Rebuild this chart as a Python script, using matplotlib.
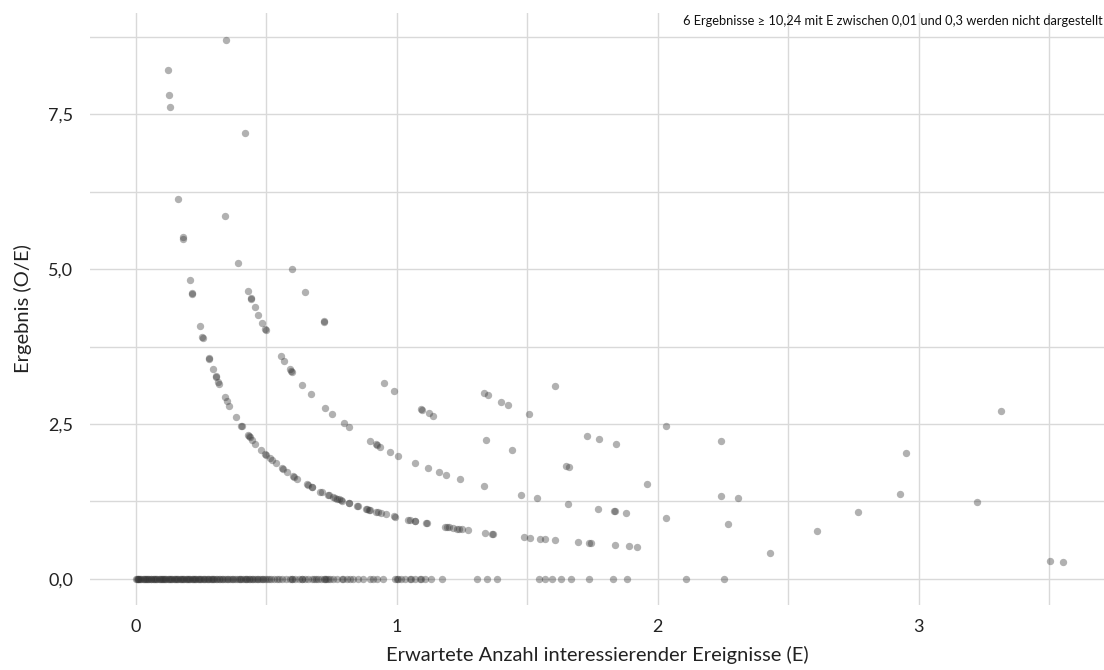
import matplotlib
matplotlib.use("Agg")
import matplotlib.pyplot as plt
from matplotlib.ticker import MultipleLocator, FuncFormatter

# ---------------- data ----------------
# points with O/E > 0 : expected count E and result O/E
e_pos = [0.122, 0.128, 0.131, 0.163, 0.181, 0.182, 0.207, 0.216, 0.217, 0.245,
         0.256, 0.258, 0.280, 0.281, 0.296, 0.306, 0.308, 0.316, 0.318, 0.341,
         0.348, 0.358, 0.383, 0.405, 0.407, 0.430, 0.434, 0.437, 0.447, 0.459,
         0.482, 0.496, 0.500, 0.513, 0.522, 0.536, 0.560, 0.564, 0.578, 0.604,
         0.608, 0.620, 0.655, 0.662, 0.674, 0.676, 0.707, 0.713, 0.738, 0.741,
         0.756, 0.765, 0.772, 0.778, 0.788, 0.792, 0.816, 0.819, 0.849, 0.853,
         0.882, 0.885, 0.895, 0.899, 0.921, 0.929, 0.939, 0.958, 0.989, 0.993,
         1.045, 1.051, 1.069, 1.072, 1.113, 1.116, 1.185, 1.192, 1.199, 1.216,
         1.233, 1.240, 1.250, 1.274, 1.339, 1.365, 1.370, 1.487, 1.511, 1.549,
         1.567, 1.607, 1.696, 1.736, 1.743, 1.836, 1.890, 1.920, 2.430, 3.503,
         3.553,
         0.342, 0.392, 0.430, 0.441, 0.443, 0.456, 0.469, 0.484, 0.496, 0.498,
         0.556, 0.570, 0.590, 0.596, 0.598, 0.639, 0.670, 0.724, 0.753, 0.797,
         0.816, 0.898, 0.920, 0.925, 0.937, 0.974, 1.006, 1.072, 1.120, 1.163,
         1.189, 1.242, 1.335, 1.476, 1.536, 1.655, 1.772, 1.832, 1.836, 1.880,
         2.033, 2.270, 2.612,
         0.345, 0.417, 0.600, 0.648, 0.721, 0.723, 0.951, 0.991, 1.094, 1.098,
         1.123, 1.141, 1.341, 1.442, 1.650, 1.661, 1.958, 2.242, 2.309, 2.767,
         1.336, 1.349, 1.399, 1.428, 1.506, 1.731, 1.776, 1.842, 2.929, 3.225,
         1.606, 2.030, 2.243,
         2.953,
         3.315]
oe_pos = [8.21, 7.80, 7.61, 6.13, 5.51, 5.48, 4.83, 4.62, 4.60, 4.08,
          3.91, 3.88, 3.57, 3.55, 3.38, 3.27, 3.25, 3.17, 3.14, 2.93,
          2.87, 2.79, 2.61, 2.47, 2.46, 2.33, 2.30, 2.29, 2.24, 2.18,
          2.08, 2.02, 2.00, 1.95, 1.92, 1.87, 1.79, 1.77, 1.73, 1.66,
          1.65, 1.61, 1.53, 1.51, 1.48, 1.48, 1.41, 1.40, 1.355, 1.35,
          1.32, 1.31, 1.295, 1.285, 1.27, 1.263, 1.225, 1.221, 1.178, 1.172,
          1.134, 1.13, 1.117, 1.112, 1.086, 1.076, 1.065, 1.044, 1.011, 1.007,
          0.957, 0.951, 0.935, 0.933, 0.898, 0.896, 0.844, 0.839, 0.834, 0.822,
          0.811, 0.806, 0.800, 0.785, 0.747, 0.733, 0.730, 0.672, 0.662, 0.645,
          0.638, 0.622, 0.590, 0.576, 0.574, 0.545, 0.529, 0.521, 0.412, 0.286,
          0.281,
          5.85, 5.10, 4.65, 4.53, 4.51, 4.39, 4.26, 4.13, 4.03, 4.02,
          3.60, 3.51, 3.39, 3.36, 3.34, 3.13, 2.98, 2.76, 2.66, 2.51,
          2.45, 2.23, 2.17, 2.16, 2.13, 2.05, 1.99, 1.87, 1.79, 1.72,
          1.68, 1.61, 1.50, 1.355, 1.30, 1.21, 1.129, 1.092, 1.089, 1.064,
          0.984, 0.881, 0.766,
          8.69, 7.19, 5.00, 4.63, 4.16, 4.15, 3.155, 3.027, 2.742, 2.732,
          2.672, 2.629, 2.237, 2.080, 1.818, 1.806, 1.532, 1.338, 1.299, 1.084,
          2.994, 2.965, 2.859, 2.801, 2.656, 2.311, 2.252, 2.172, 1.366, 1.240,
          3.113, 2.463, 2.229,
          2.032,
          2.715]

# points with O/E = 0 : expected count E
e_zero = [0.003, 0.005, 0.008, 0.010, 0.013, 0.018, 0.022, 0.027, 0.030, 0.035,
          0.040, 0.043, 0.048, 0.052, 0.057, 0.060, 0.065, 0.070, 0.074, 0.078,
          0.083, 0.088, 0.092, 0.097, 0.100, 0.105, 0.110, 0.114, 0.118, 0.123,
          0.128, 0.132, 0.137, 0.141, 0.146, 0.150, 0.155, 0.160, 0.164, 0.168,
          0.173, 0.178, 0.182, 0.187, 0.192, 0.196, 0.200, 0.205, 0.210, 0.214,
          0.219, 0.224, 0.228, 0.233, 0.238, 0.243, 0.248, 0.252, 0.257, 0.262,
          0.267, 0.272, 0.277, 0.282, 0.287, 0.292, 0.297, 0.302, 0.307, 0.312,
          0.318, 0.323, 0.329, 0.335, 0.342, 0.349, 0.355, 0.362, 0.368, 0.374,
          0.381, 0.387, 0.394, 0.400, 0.405, 0.410, 0.419, 0.424, 0.428, 0.433,
          0.438, 0.444, 0.450, 0.457, 0.464, 0.470, 0.476, 0.483, 0.489, 0.496,
          0.505, 0.512, 0.520, 0.530, 0.540, 0.550, 0.560, 0.575, 0.590, 0.598,
          0.600, 0.612, 0.625, 0.636, 0.638, 0.650, 0.662, 0.674, 0.682, 0.690,
          0.700, 0.710, 0.720, 0.725, 0.730, 0.738, 0.745, 0.757, 0.770, 0.789,
          0.795, 0.808, 0.820, 0.834, 0.850, 0.872, 0.898, 0.910, 0.925, 0.949,
          0.995, 1.000, 1.005, 1.018, 1.030, 1.050, 1.055, 1.070, 1.090, 1.095,
          1.110, 1.130, 1.172, 1.306, 1.345, 1.385, 1.547, 1.569, 1.594, 1.631,
          1.668, 1.736, 1.828, 1.884, 2.109, 2.255]
oe_zero = [0.0] * len(e_zero)

x_ticks = [0, 1, 2, 3]
y_ticks = [0.0, 2.5, 5.0, 7.5]
x_label = "Erwartete Anzahl interessierender Ereignisse (E)"
y_label = "Ergebnis (O/E)"
note = "6 Ergebnisse \u2265 10,24 mit E zwischen 0,01 und 0,3 werden nicht dargestellt"

# ---------------- plot ----------------
FONT = ["Lato", "DejaVu Sans"]
plt.rcParams["font.family"] = FONT

fig = plt.figure(figsize=(11.04, 6.70), dpi=100)
ax = fig.add_axes([90 / 1104, 65 / 670, 1014 / 1104, 592 / 670])

pt_color = "#333333"
ax.scatter(e_zero, oe_zero, s=28, color=pt_color, alpha=0.38, linewidths=0, zorder=3)
ax.scatter(e_pos, oe_pos, s=28, color=pt_color, alpha=0.38, linewidths=0, zorder=3)

ax.set_xlim(-0.175, 3.71)
ax.set_ylim(-0.42, 9.13)

ax.xaxis.set_minor_locator(MultipleLocator(0.5))
ax.yaxis.set_minor_locator(MultipleLocator(1.25))
ax.set_xticks(x_ticks)
ax.set_yticks(y_ticks)
ax.xaxis.set_major_formatter(FuncFormatter(lambda v, p: f"{v:.0f}"))
ax.yaxis.set_major_formatter(FuncFormatter(lambda v, p: f"{v:.1f}".replace(".", ",")))

ax.grid(True, which="both", color="#d9d9d9", linewidth=1.0, zorder=0)
ax.set_axisbelow(True)
for sp in ax.spines.values():
    sp.set_visible(False)
ax.tick_params(which="both", length=0)
ax.tick_params(axis="y", pad=12, labelsize=13, labelcolor="#222222")
ax.tick_params(axis="x", pad=10, labelsize=13, labelcolor="#222222")

ax.set_xlabel(x_label, fontsize=14.5, color="#222222", labelpad=8)
ax.set_ylabel(y_label, fontsize=14.5, color="#222222", labelpad=12)

fig.text(1103 / 1104, 1 - 21 / 670, note, ha="right", va="center",
         fontsize=9.3, color="#111111", family=FONT)

fig.savefig("out.png", dpi=100)
